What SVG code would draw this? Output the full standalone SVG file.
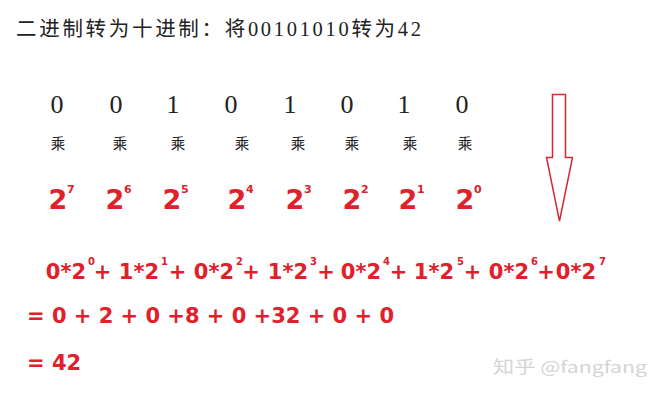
<svg xmlns="http://www.w3.org/2000/svg" width="657" height="400" viewBox="0 0 657 400">
<style>
.title{font-family:"Liberation Serif","Noto Sans CJK SC",serif;font-size:20.5px;fill:#222}
.bit{font-family:"Liberation Serif",serif;font-size:26px;fill:#222;text-anchor:middle}
.mul{font-family:"Noto Sans CJK SC",sans-serif;font-size:14.5px;fill:#222;text-anchor:middle}
.pw{font-family:"DejaVu Sans",sans-serif;font-weight:bold;font-size:27px;fill:#e0202a;text-anchor:middle}
.ps{font-family:"DejaVu Sans",sans-serif;font-weight:bold;font-size:11px;fill:#e0202a}
.eq{font-family:"DejaVu Sans",sans-serif;font-weight:bold;font-size:21px;fill:#e0202a}
.et{font-family:"DejaVu Sans",sans-serif;font-weight:bold;font-size:21px;fill:#e0202a;text-anchor:end}
.es{font-family:"DejaVu Sans",sans-serif;font-weight:bold;font-size:10px;fill:#e0202a}
.pl{font-family:"DejaVu Sans",sans-serif;font-weight:bold;font-size:21px;fill:#e0202a;text-anchor:middle}
.wm{font-family:"Noto Sans CJK SC",sans-serif;font-size:16.5px;fill:#d4d4d4}
</style>
<g id="title"><text class="title" x="16" y="36" textLength="405" lengthAdjust="spacing">二进制转为十进制：将00101010转为42</text></g>
<g id="bits">
<text class="bit" x="57" y="113">0</text>
<text class="bit" x="116" y="113">0</text>
<text class="bit" x="173" y="113">1</text>
<text class="bit" x="231" y="113">0</text>
<text class="bit" x="290" y="113">1</text>
<text class="bit" x="347" y="113">0</text>
<text class="bit" x="404" y="113">1</text>
<text class="bit" x="462" y="113">0</text>
</g>
<g id="mul">
<text class="mul" x="58" y="149">乘</text>
<text class="mul" x="120" y="149">乘</text>
<text class="mul" x="178" y="149">乘</text>
<text class="mul" x="242" y="149">乘</text>
<text class="mul" x="298" y="149">乘</text>
<text class="mul" x="352" y="149">乘</text>
<text class="mul" x="410" y="149">乘</text>
<text class="mul" x="465" y="149">乘</text>
</g>
<g id="powers">
<text class="pw" x="58" y="209">2</text><text class="ps" x="67" y="193">7</text>
<text class="pw" x="115" y="209">2</text><text class="ps" x="124" y="193">6</text>
<text class="pw" x="172" y="209">2</text><text class="ps" x="181" y="193">5</text>
<text class="pw" x="237" y="209">2</text><text class="ps" x="246" y="193">4</text>
<text class="pw" x="295" y="209">2</text><text class="ps" x="304" y="193">3</text>
<text class="pw" x="352" y="209">2</text><text class="ps" x="361" y="193">2</text>
<text class="pw" x="408" y="209">2</text><text class="ps" x="417" y="193">1</text>
<text class="pw" x="465" y="209">2</text><text class="ps" x="474" y="193">0</text>
</g>
<g id="arrow"><polygon points="552.5,94.5 565.5,94.5 565.5,157.5 572.5,157.5 559.5,221 546.5,157.5 552.5,157.5" fill="none" stroke="#d42a30" stroke-width="1.5"/></g>
<g id="expansion">
<text class="et" x="86" y="279">0*2</text><text class="es" x="88" y="265">0</text>
<text class="et" x="159" y="279">1*2</text><text class="es" x="161" y="265">1</text>
<text class="et" x="234" y="279">0*2</text><text class="es" x="236" y="265">2</text>
<text class="et" x="308" y="279">1*2</text><text class="es" x="310" y="265">3</text>
<text class="et" x="381" y="279">0*2</text><text class="es" x="383" y="265">4</text>
<text class="et" x="454" y="279">1*2</text><text class="es" x="457" y="265">5</text>
<text class="et" x="529" y="279">0*2</text><text class="es" x="531" y="265">6</text>
<text class="et" x="596" y="279">0*2</text><text class="es" x="599" y="265">7</text>
<text class="pl" x="102.5" y="279">+</text>
<text class="pl" x="177.5" y="279">+</text>
<text class="pl" x="251" y="279">+</text>
<text class="pl" x="326" y="279">+</text>
<text class="pl" x="398.5" y="279">+</text>
<text class="pl" x="472.5" y="279">+</text>
<text class="pl" x="546" y="279">+</text>
</g>
<g id="sum"><text class="eq" x="27" y="323" textLength="367" lengthAdjust="spacing">= 0 + 2 + 0 +8 + 0 +32 + 0 + 0</text></g>
<g id="result"><text class="eq" x="27" y="370">= 42</text></g>
<g id="watermark"><text class="wm" x="493" y="373" textLength="154" lengthAdjust="spacingAndGlyphs">知乎 @fangfang</text></g>
</svg>
